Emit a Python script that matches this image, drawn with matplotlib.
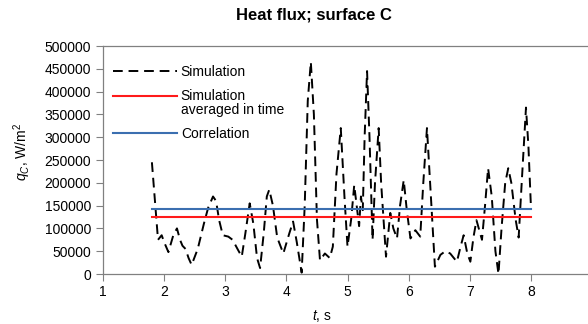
import numpy as np
import matplotlib
matplotlib.use('Agg')
import matplotlib.pyplot as plt
from matplotlib.ticker import FixedLocator, FuncFormatter

plt.rcParams['font.family'] = ['Liberation Sans', 'DejaVu Sans']
plt.rcParams['mathtext.fontset'] = 'custom'
plt.rcParams['mathtext.rm'] = 'Liberation Sans'
plt.rcParams['mathtext.it'] = 'Liberation Sans:italic'

# heat flux on surface C
t_sim = [1.80, 1.90, 1.96, 2.00, 2.07, 2.15, 2.21, 2.26, 2.30, 2.35, 2.40, 2.45,
         2.55, 2.65, 2.72, 2.80, 2.85, 2.90, 2.96, 3.05, 3.12, 3.20, 3.27, 3.33,
         3.40, 3.46, 3.52, 3.57, 3.63, 3.68, 3.72, 3.78, 3.85, 3.95, 4.05, 4.11,
         4.17, 4.25, 4.30, 4.35, 4.40, 4.45, 4.50, 4.55, 4.63, 4.71, 4.76, 4.82,
         4.89, 4.95, 5.00, 5.06, 5.11, 5.15, 5.19, 5.22, 5.25, 5.28, 5.32, 5.36,
         5.41, 5.45, 5.51, 5.55, 5.63, 5.70, 5.75, 5.81, 5.86, 5.92, 5.97, 6.03,
         6.11, 6.19, 6.24, 6.30, 6.36, 6.43, 6.52, 6.60, 6.68, 6.74, 6.79, 6.85,
         6.90, 6.96, 7.01, 7.06, 7.11, 7.20, 7.25, 7.30, 7.36, 7.42, 7.47, 7.52,
         7.58, 7.63, 7.68, 7.75, 7.80, 7.85, 7.92, 7.96, 8.00]
q_sim = [245000, 75000, 85000, 70000, 48000, 85000, 100000, 75000, 62000, 55000, 35000, 20000,
         55000, 110000, 145000, 170000, 160000, 118000, 85000, 82000, 75000, 55000, 38000, 90000,
         155000, 110000, 35000, 13000, 90000, 170000, 185000, 150000, 80000, 45000, 90000, 115000,
         70000, 3000, 150000, 380000, 465000, 350000, 120000, 30000, 45000, 35000, 60000, 220000,
         320000, 170000, 60000, 120000, 195000, 150000, 105000, 170000, 140000, 300000, 445000, 300000,
         75000, 200000, 320000, 200000, 38000, 134000, 100000, 78000, 150000, 206000, 140000, 78000,
         96000, 82000, 200000, 320000, 180000, 16000, 42000, 50000, 45000, 35000, 27000, 60000,
         85000, 45000, 27000, 80000, 118000, 75000, 150000, 232000, 170000, 50000, 0, 100000,
         200000, 232000, 200000, 120000, 80000, 200000, 365000, 280000, 150000]

t_span = [1.8, 8.0]
q_avg = 125000
q_corr = 143000

xticks = [1, 2, 3, 4, 5, 6, 7, 8]
yticks = list(range(0, 500001, 50000))

axis_grey = '#808080'

fig = plt.figure(figsize=(5.88, 3.24), dpi=100)
ax = fig.add_axes([103/588, 50/324, 489/588, 228/324])

ax.plot(t_sim, q_sim, color='black', linewidth=1.4, linestyle=(0, (5, 3)), label='Simulation')
ax.plot(t_span, [q_avg, q_avg], color='#ff1a1a', linewidth=1.5, label='Simulation\naveraged in time')
ax.plot(t_span, [q_corr, q_corr], color='#3b6fb0', linewidth=1.5, label='Correlation')

ax.set_xlim(1, 9)
ax.set_ylim(0, 500000)
ax.xaxis.set_major_locator(FixedLocator(xticks))
ax.yaxis.set_major_locator(FixedLocator(yticks))
ax.yaxis.set_major_formatter(FuncFormatter(lambda v, p: '%d' % v))
ax.tick_params(labelsize=10, color=axis_grey, length=5, width=0.8, direction='out')
ax.tick_params(axis='x', pad=3)

for side in ['left', 'bottom', 'top']:
    ax.spines[side].set_color(axis_grey)
    ax.spines[side].set_linewidth(0.9)
ax.spines['right'].set_visible(False)

leg = ax.legend(loc='upper left', bbox_to_anchor=(0.0, 0.96), frameon=False, fontsize=10,
                handlelength=4.6, handletextpad=0.3, labelspacing=0.75, borderaxespad=0.3)
for txt in leg.get_texts():
    txt.set_linespacing(0.95)
# red handle sits level with the first line of its two-line label
red_handle = leg.get_lines()[1]
red_handle.set_ydata([y + 5.5 for y in red_handle.get_ydata()])

fig.text(314/588, 1 - 15/324, 'Heat flux; surface C', ha='center', va='center',
         fontsize=12, fontweight='bold')
fig.text(322/588, 1 - 316/324, r'$\it{t}$, s', ha='center', va='center', fontsize=10)
fig.text(22/588, 1 - 152/324, r'$\it{q}_{C}$, W/m$^{2}$', ha='center', va='center',
         rotation=90, fontsize=10)

plt.savefig('out.png', dpi=100)
plt.close(fig)
